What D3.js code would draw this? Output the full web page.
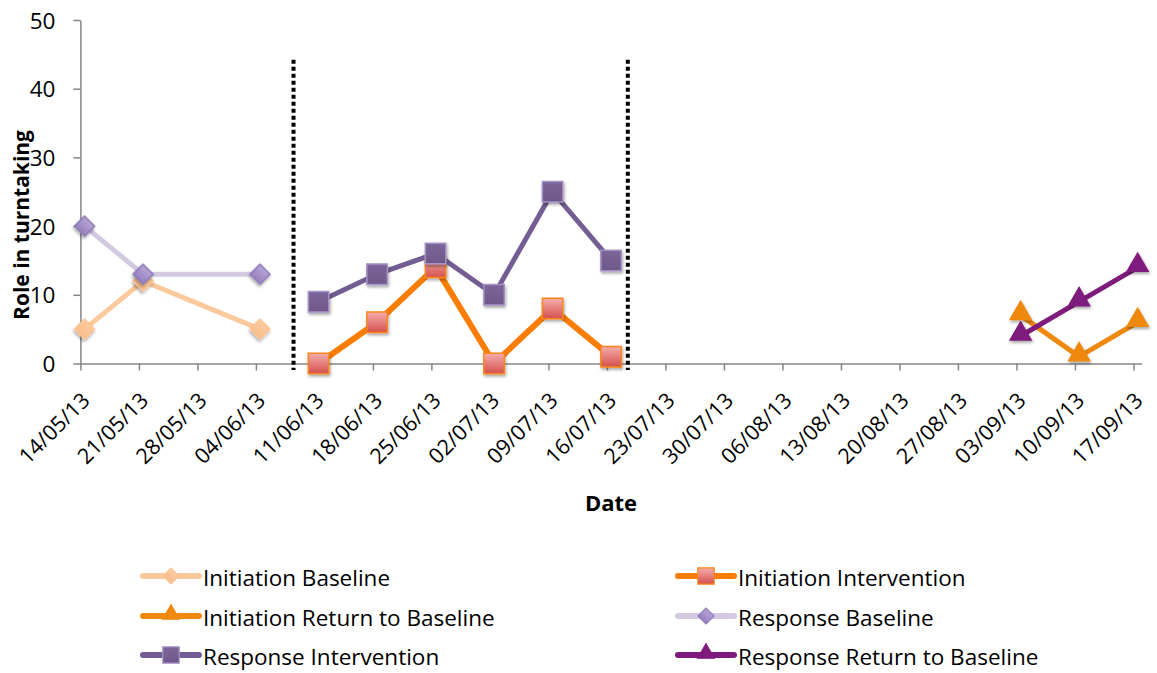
<!DOCTYPE html>
<html>
<head>
<meta charset="utf-8">
<script src="https://cdnjs.cloudflare.com/ajax/libs/d3/7.8.5/d3.min.js"></script>
<style>
  body { margin: 0; background: #fff; }
  svg { display: block; font-family: "Open Sans", sans-serif; }
  .axis path, .axis line { stroke: #878787; stroke-width: 1.5px; }
  .axis text { fill: #000; }
</style>
</head>
<body>
<div id="chart"></div>
<script>
// weekly tick labels on the date axis
var tickLabels = ["14/05/13", "21/05/13", "28/05/13", "04/06/13", "11/06/13", "18/06/13",
    "25/06/13", "02/07/13", "09/07/13", "16/07/13", "23/07/13", "30/07/13", "06/08/13",
    "13/08/13", "20/08/13", "27/08/13", "03/09/13", "10/09/13", "17/09/13"];
var yTicks = [0, 10, 20, 30, 40, 50];

// baseline phase
var baselineDates = ["14/05/13", "21/05/13", "04/06/13"];
var initiationBaseline = [5, 12, 5];
var responseBaseline = [20, 13, 13];

// intervention phase
var interventionDates = ["11/06/13", "18/06/13", "25/06/13", "02/07/13", "09/07/13", "16/07/13"];
var initiationIntervention = [0, 6, 14, 0, 8, 1];
var responseIntervention = [9, 13, 16, 10, 25, 15];

// return to baseline phase
var returnDates = ["03/09/13", "10/09/13", "17/09/13"];
var initiationReturn = [7, 1, 6];
var responseReturn = [4, 9, 14];

// phase change lines
var phaseChanges = ["08/06/13", "18/07/13"];

var parseDate = d3.timeParse("%d/%m/%y");

var width = 1157, height = 673;
var svg = d3.select("#chart").append("svg")
    .attr("width", width)
    .attr("height", height);

var defs = svg.append("defs");
var shadow = defs.append("filter").attr("id", "shadow")
    .attr("x", "-50%").attr("y", "-50%").attr("width", "200%").attr("height", "200%");
shadow.append("feDropShadow")
    .attr("dx", 1).attr("dy", 2).attr("stdDeviation", 1.5)
    .attr("flood-color", "#000").attr("flood-opacity", 0.35);

function gradient(id, top, bottom) {
    var g = defs.append("linearGradient").attr("id", id)
        .attr("x1", 0).attr("y1", 0).attr("x2", 0).attr("y2", 1);
    g.append("stop").attr("offset", "0%").attr("stop-color", top);
    g.append("stop").attr("offset", "100%").attr("stop-color", bottom);
}
gradient("gradPink", "#F5AEAD", "#D4504D");
gradient("gradLav", "#B6A6D6", "#9580BE");
gradient("gradPeach", "#FCCBA0", "#F9BD8C");
gradient("gradPurple", "#7C6699", "#6E5889");

// Scales: one slot per day, points sit in the middle of their day
var x = d3.scaleTime()
    .domain([parseDate(tickLabels[0]), d3.timeDay.offset(parseDate(tickLabels[tickLabels.length - 1]), 1)])
    .range([80.4, 1141.8]);
var y = d3.scaleLinear().domain([0, 50]).range([363.5, 20]);
var xMid = function(d){ return x(d3.timeHour.offset(d, 12)); };

// Y-axis
var yAxis = svg.append("g")
    .attr("class", "axis y")
    .attr("transform", "translate(80.4,0)")
    .call(d3.axisLeft(y).tickValues(yTicks).tickSize(7).tickSizeOuter(0).tickPadding(18))
    .attr("font-family", null);
yAxis.selectAll("text")
    .attr("font-size", "22.5px")
    .attr("dy", "0.36em");

// X-axis
var xAxis = svg.append("g")
    .attr("class", "axis x")
    .attr("transform", "translate(0,363.5)")
    .call(d3.axisBottom(x)
        .tickValues(tickLabels.map(parseDate))
        .tickFormat(d3.timeFormat("%d/%m/%y"))
        .tickSize(7).tickSizeOuter(0))
    .attr("font-family", null);
xAxis.selectAll("text")
    .attr("font-size", "21.5px")
    .attr("text-anchor", "end")
    .attr("x", 0).attr("y", 0)
    .attr("dy", "0.35em")
    .attr("transform", "translate(5,33) rotate(-45)");

// Axis titles
svg.append("text")
    .attr("transform", "translate(29,225) rotate(-90)")
    .attr("text-anchor", "middle")
    .attr("font-size", "21px")
    .attr("font-weight", "bold")
    .text("Role in turntaking");
svg.append("text")
    .attr("x", 611)
    .attr("y", 511)
    .attr("text-anchor", "middle")
    .attr("font-size", "22px")
    .attr("font-weight", "bold")
    .text("Date");

// Phase change lines
svg.selectAll(".phase")
    .data(phaseChanges.map(parseDate))
    .enter().append("line")
    .attr("class", "phase")
    .attr("x1", function(d){ return xMid(d); })
    .attr("x2", function(d){ return xMid(d); })
    .attr("y1", y(44.2))
    .attr("y2", 370)
    .attr("stroke", "#000")
    .attr("stroke-width", 4)
    .attr("stroke-dasharray", "4,3");

// Marker shapes (diamond = square turned 45 degrees)
var markers = {
    diamond: { d: d3.symbol().type(d3.symbolSquare).size(200)(), rot: 45, dy: 0 },
    square: { d: d3.symbol().type(d3.symbolSquare).size(420)(), rot: 0, dy: 0 },
    triangle: { d: d3.symbol().type(d3.symbolTriangle).size(190)(), rot: 0, dy: -2 }
};

var series = [
    { name: "Initiation Baseline", dates: baselineDates, values: initiationBaseline,
      line: "#FBC99C", lw: 5, marker: "diamond", fill: "url(#gradPeach)", stroke: "#FAC393" },
    { name: "Initiation Intervention", dates: interventionDates, values: initiationIntervention,
      line: "#FA7D05", lw: 6, marker: "square", fill: "url(#gradPink)", stroke: "#F9851A" },
    { name: "Initiation Return to Baseline", dates: returnDates, values: initiationReturn,
      line: "#EE880F", lw: 5, marker: "triangle", fill: "#EE880F", stroke: "#EE880F" },
    { name: "Response Baseline", dates: baselineDates, values: responseBaseline,
      line: "#D3CAE2", lw: 5, marker: "diamond", fill: "url(#gradLav)", stroke: "#8C78B6" },
    { name: "Response Intervention", dates: interventionDates, values: responseIntervention,
      line: "#735D92", lw: 5, marker: "square", fill: "url(#gradPurple)", stroke: "#A693C6" },
    { name: "Response Return to Baseline", dates: returnDates, values: responseReturn,
      line: "#7E1B7D", lw: 5, marker: "triangle", fill: "#7E1B7D", stroke: "#7E1B7D" }
];

series.forEach(function(s){
    s.points = s.dates.map(function(d, i){ return { date: parseDate(d), value: s.values[i] }; });
});

var line = d3.line()
    .x(function(d){ return xMid(d.date); })
    .y(function(d){ return y(d.value); });

var plot = svg.append("g");
series.forEach(function(s){
    var g = plot.append("g");
    var m = markers[s.marker];
    g.append("path")
        .attr("fill", "none")
        .attr("stroke", s.line)
        .attr("stroke-width", s.lw)
        .attr("stroke-linejoin", "round")
        .attr("d", line(s.points));
    g.selectAll(".mark")
        .data(s.points)
        .enter().append("path")
        .attr("class", "mark")
        .attr("transform", function(d){
            return "translate(" + xMid(d.date) + "," + (y(d.value) + m.dy) + ") rotate(" + m.rot + ")";
        })
        .attr("d", m.d)
        .attr("fill", s.fill)
        .attr("stroke", s.stroke)
        .attr("stroke-width", 1.5)
        .attr("filter", "url(#shadow)");
});

// Legend, two columns
var legend = svg.append("g").attr("class", "legend");
var legendPos = [[143, 576], [678, 576], [143, 616], [678, 616], [143, 655], [678, 655]];
series.forEach(function(s, i){
    var m = markers[s.marker];
    var g = legend.append("g")
        .attr("transform", "translate(" + legendPos[i][0] + "," + legendPos[i][1] + ")");
    g.append("line")
        .attr("x1", 0).attr("x2", 56)
        .attr("stroke", s.line)
        .attr("stroke-width", 6)
        .attr("stroke-linecap", "round");
    g.append("path")
        .attr("transform", "translate(28," + (m.dy * 0.8) + ") rotate(" + m.rot + ") scale(0.8)")
        .attr("d", m.d)
        .attr("fill", s.fill)
        .attr("stroke", s.stroke)
        .attr("stroke-width", 1.5);
    g.append("text")
        .attr("x", 60)
        .attr("y", 2)
        .attr("dy", "0.35em")
        .attr("font-size", "22.5px")
        .text(s.name);
});
</script>
</body>
</html>
